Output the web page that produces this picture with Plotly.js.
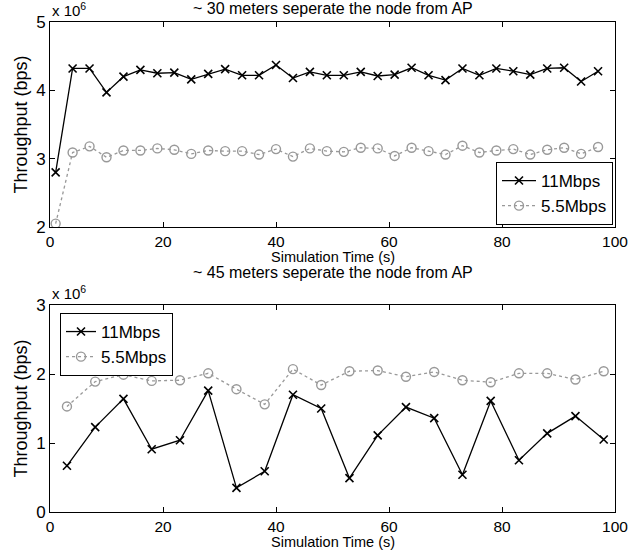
<!DOCTYPE html>
<html>
<head>
<meta charset="utf-8">
<script src="https://cdn.plot.ly/plotly-3.0.1.min.js"></script>
<style>html,body{margin:0;padding:0;background:#fff;}#chart{width:632px;height:552px;}</style>
</head>
<body>
<div id="chart"></div>
<script>
// Top panel (~30 m), values in 10^6 bps
const timeTop = [1,4,7,10,13,16,19,22,25,28,31,34,37,40,43,46,49,52,55,58,61,64,67,70,73,76,79,82,85,88,91,94,97];
const top11 = [2.80,4.32,4.32,3.97,4.20,4.30,4.25,4.26,4.16,4.24,4.31,4.22,4.22,4.37,4.18,4.27,4.22,4.22,4.27,4.21,4.23,4.33,4.22,4.15,4.32,4.22,4.32,4.28,4.23,4.32,4.33,4.13,4.28];
const top55 = [2.05,3.09,3.18,3.02,3.12,3.12,3.15,3.13,3.07,3.12,3.11,3.11,3.06,3.14,3.03,3.15,3.11,3.10,3.16,3.15,3.04,3.16,3.11,3.06,3.19,3.09,3.12,3.14,3.06,3.13,3.16,3.07,3.17];
// Bottom panel (~45 m)
const timeBot = [3,8,13,18,23,28,33,38,43,48,53,58,63,68,73,78,83,88,93,98];
const bot11 = [0.67,1.23,1.64,0.91,1.04,1.76,0.35,0.59,1.70,1.50,0.49,1.11,1.52,1.36,0.54,1.61,0.75,1.14,1.39,1.05];
const bot55 = [1.53,1.89,1.99,1.90,1.91,2.01,1.78,1.56,2.07,1.84,2.04,2.05,1.96,2.03,1.91,1.88,2.01,2.01,1.92,2.04];
const seriesNames = ['11Mbps','5.5Mbps'];
const xTicks = [0,20,40,60,80,100];
const yTicksTop = [2,3,4,5];
const yTicksBot = [0,1,2,3];
const titles = ['~ 30 meters seperate the node from AP','~ 45 meters seperate the node from AP'];
const xTitle = 'Simulation Time (s)';
const yTitle = 'Throughput (bps)';

const FONT = 'Liberation Sans, Arial, sans-serif';
const s11 = {mode:'lines+markers', line:{color:'#000',width:1.3}, marker:{symbol:'x-thin-open',size:8,color:'#000',line:{width:1.6,color:'#000'}}};
const s55 = {mode:'lines+markers', line:{color:'#999',width:1.3,dash:'dot'}, marker:{symbol:'circle-open',size:9,color:'#999',line:{width:1.4,color:'#999'}}};

const traces = [
  Object.assign({x:timeTop,y:top11,name:seriesNames[0],xaxis:'x',yaxis:'y',legend:'legend'},JSON.parse(JSON.stringify(s11))),
  Object.assign({x:timeTop,y:top55,name:seriesNames[1],xaxis:'x',yaxis:'y',legend:'legend'},JSON.parse(JSON.stringify(s55))),
  Object.assign({x:timeBot,y:bot11,name:seriesNames[0],xaxis:'x2',yaxis:'y2',legend:'legend2'},JSON.parse(JSON.stringify(s11))),
  Object.assign({x:timeBot,y:bot55,name:seriesNames[1],xaxis:'x2',yaxis:'y2',legend:'legend2'},JSON.parse(JSON.stringify(s55)))
];

const W=632,H=552;
const L=50,R=615;
const T1=22,B1=227,T2=305,B2=512;
const fx=p=>p/W, fy=p=>(H-p)/H;
const XC=(fx(L)+fx(R))/2;

function xax(anchor){
  return {domain:[fx(L),fx(R)],range:[0,100],anchor:anchor,tickvals:xTicks,ticktext:xTicks.map(String),
    ticks:'inside',ticklen:5,tickcolor:'#000',mirror:'ticks',showline:true,linecolor:'#000',linewidth:1,
    showgrid:false,zeroline:false,tickfont:{family:FONT,size:15.5,color:'#000'}};
}
function yax(anchor,dom,rng,tv){
  return {domain:dom,range:rng,anchor:anchor,tickvals:tv,ticktext:tv.map(String),
    ticks:'inside',ticklen:5,tickcolor:'#000',mirror:'ticks',showline:true,linecolor:'#000',linewidth:1,
    showgrid:false,zeroline:false,tickfont:{family:FONT,size:17,color:'#000'},
    title:{text:yTitle,font:{family:FONT,size:18,color:'#000'},standoff:3}};
}
function ann(text,x,yPix,size,extra){
  return Object.assign({text:text,x:x,y:fy(yPix),xref:'paper',yref:'paper',showarrow:false,
    xanchor:'center',yanchor:'middle',font:{family:FONT,size:size,color:'#000'}},extra||{});
}

const layout = {
  width:W,height:H,margin:{l:0,r:0,t:0,b:0},paper_bgcolor:'#fff',plot_bgcolor:'#fff',
  font:{family:FONT,color:'#000'},
  xaxis:xax('y'), yaxis:yax('x',[fy(B1),fy(T1)],[2,5],yTicksTop),
  xaxis2:xax('y2'), yaxis2:yax('x2',[fy(B2),fy(T2)],[0,3],yTicksBot),
  legend:{x:fx(613),y:fy(225),xanchor:'right',yanchor:'bottom',bgcolor:'#fff',bordercolor:'#000',borderwidth:1,
    font:{family:FONT,size:17,color:'#000'},tracegroupgap:0,itemwidth:34},
  legend2:{x:fx(60),y:fy(313),xanchor:'left',yanchor:'top',bgcolor:'#fff',bordercolor:'#000',borderwidth:1,
    font:{family:FONT,size:17,color:'#000'},tracegroupgap:0,itemwidth:30},
  annotations:[
    ann(titles[0],XC,9,16),
    ann(titles[1],XC,272,16),
    ann(xTitle,XC,257,14.5),
    ann(xTitle,XC,542,14.5),
    ann('x 10<sup>6</sup>',fx(L),T1-1,15,{xanchor:'left',yanchor:'bottom'}),
    ann('x 10<sup>6</sup>',fx(L),T2-1,15,{xanchor:'left',yanchor:'bottom'})
  ]
};
Plotly.newPlot('chart',traces,layout,{displayModeBar:false,staticPlot:true});
</script>
</body>
</html>
